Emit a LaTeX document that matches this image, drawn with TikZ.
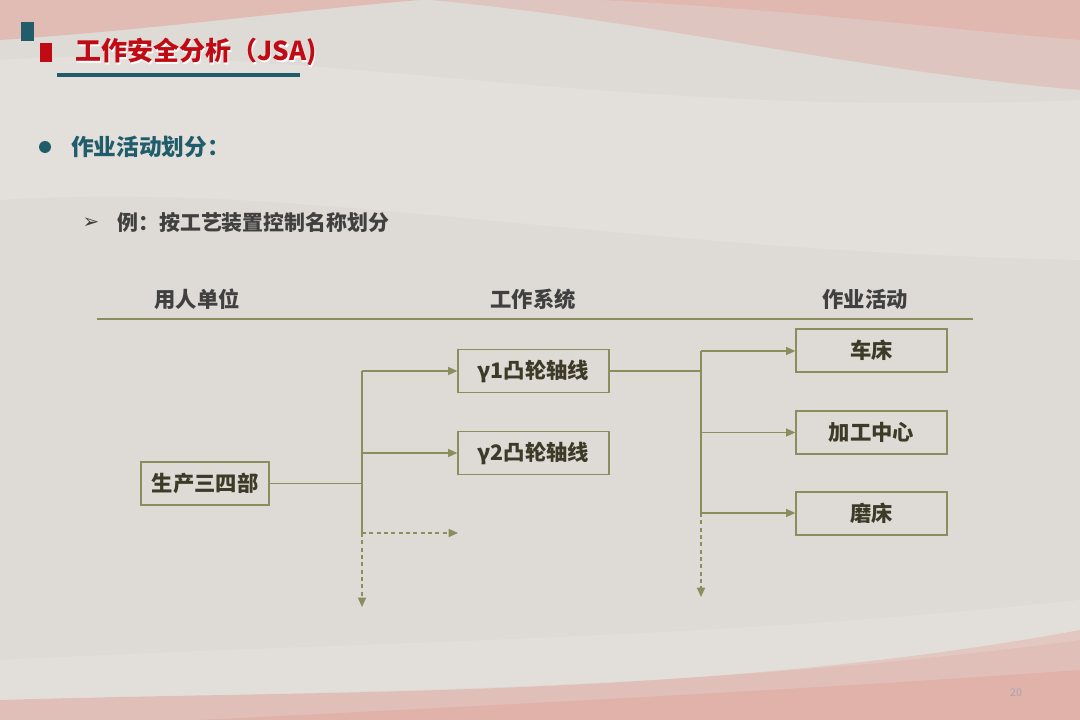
\documentclass[tikz,border=0pt]{standalone}
\usepackage{fontspec}
\setmainfont{Noto Sans CJK SC}
\newfontfamily\symfont{DejaVu Sans}
\usetikzlibrary{arrows.meta,shadings}
\definecolor{bgc}{RGB}{222,218,213}
\definecolor{pinkc}{RGB}{226,160,150}
\definecolor{teal}{RGB}{33,92,107}
\definecolor{titred}{RGB}{192,10,20}
\definecolor{olive}{RGB}{140,140,92}
\definecolor{boxtxt}{RGB}{62,58,40}
\definecolor{headtxt}{RGB}{64,64,64}
\tikzset{
  olbox/.style={draw=olive,line width=1.2pt,minimum width=113pt,minimum height=32.5pt,inner sep=0pt,text=boxtxt,font=\bfseries\fontsize{16}{18}\selectfont},
  head/.style={text=headtxt,font=\bfseries\fontsize{16}{18}\selectfont},
  conn/.style={draw=olive,line width=1.1pt},
  arr/.style={conn,-{Triangle[length=7pt,width=6pt]}},
  dsh/.style={dash pattern=on 3pt off 2.5pt}
}
\begin{document}
\begin{tikzpicture}[x=0.75pt,y=-0.75pt]
% background
\fill[bgc] (0,0) rectangle (1080,720);
\useasboundingbox (0,0) rectangle (1080,720);
\begin{scope}
\clip (0,0) rectangle (1080,720);
\fill[pinkc,opacity=0.5] (0,0) -- (0,40) .. controls (150,30) and (300,10) .. (420,0) -- cycle;
\fill[pinkc,opacity=0.35] (430,0) .. controls (650,20) and (850,70) .. (1080,90) -- (1080,0) -- cycle;
\fill[pinkc,opacity=0.35] (600,0) .. controls (800,10) and (950,30) .. (1080,40) -- (1080,0) -- cycle;
\fill[white,opacity=0.18] (0,60) .. controls (300,40) and (600,120) .. (1080,100) -- (1080,260) .. controls (600,250) and (300,180) .. (0,200) -- cycle;
\fill[pinkc,opacity=0.45] (0,720) -- (0,700) .. controls (300,690) and (700,700) .. (1080,630) -- (1080,720) -- cycle;
\fill[pinkc,opacity=0.4] (200,720) .. controls (500,705) and (800,690) .. (1080,670) -- (1080,720) -- cycle;
\fill[white,opacity=0.15] (0,660) .. controls (400,640) and (700,640) .. (1080,600) -- (1080,640) .. controls (700,690) and (400,690) .. (0,700) -- cycle;
\end{scope}
% title decoration
\fill[teal] (21,22) rectangle (34,41);
\fill[titred] (40,43) rectangle (52,62);
\node[anchor=west,text=white,font=\bfseries\fontsize{19.5}{22}\selectfont,inner sep=0pt] (tshadow) at (76.5,53.5) {工作安全分析（JSA)};
\node[anchor=west,text=titred,font=\bfseries\fontsize{19.5}{22}\selectfont,inner sep=0pt] (title) at (75,52) {工作安全分析（JSA)};
\fill[teal] (57,73) rectangle (300,77);
% bullet
\fill[teal] (45,147) circle (6);
\node[anchor=west,text=teal,font=\bfseries\fontsize{17}{20}\selectfont,inner sep=0pt] (sec) at (71,147) {作业活动划分：};
\node[anchor=center,text=headtxt,font=\symfont\fontsize{15}{16}\selectfont,inner sep=0pt] (tri) at (91,223) {➢};
\node[anchor=west,text=headtxt,font=\bfseries\fontsize{15.7}{18}\selectfont,inner sep=0pt] (ex) at (117,223) {例：按工艺装置控制名称划分};
% headers
\node[head] (h1) at (197,299) {用人单位};
\node[head] (h2) at (533,299) {工作系统};
\node[head] (h3) at (865,299) {作业活动};
\coordinate (hl) at (97,319);
\coordinate (hr) at (973,319);
\draw[conn,line width=1pt] (hl) -- (hr);
% boxes
\node[olbox,minimum width=96pt] (src) at (205,483.5) {生产三四部};
\node[olbox] (g1) at (533.5,371) {γ1凸轮轴线};
\node[olbox] (g2) at (533.5,453) {γ2凸轮轴线};
\node[olbox] (c1) at (871.5,350.5) {车床};
\node[olbox] (c2) at (871.5,432.5) {加工中心};
\node[olbox] (c3) at (871.5,513.5) {磨床};
% left connectors
\coordinate (v1t) at (362,371);
\coordinate (v1b) at (362,533);
\coordinate (v1e) at (362,607);
\coordinate (d1) at (458,533);
\draw[conn] (src.east) -- (src.east -| v1t);
\draw[conn] (v1t) -- (v1b);
\draw[arr,dsh] (v1b) -- (v1e);
\draw[arr] (v1t) -- (g1.west);
\draw[arr] (v1t |- g2.west) -- (g2.west);
\draw[arr,dsh] (v1b) -- (d1);
% right connectors
\coordinate (v2t) at (701,351);
\coordinate (v2b) at (701,513);
\coordinate (v2e) at (701,597);
\draw[conn] (g1.east) -- (g1.east -| v2t);
\draw[conn] (v2t) -- (v2b);
\draw[arr,dsh] (v2b) -- (v2e);
\draw[arr] (v2t) -- (v2t -| c1.west);
\draw[arr] (v2t |- c2.west) -- (c2.west);
\draw[arr] (v2b) -- (v2b -| c3.west);
% page number
\node[text=gray!70,font=\fontsize{8}{9}\selectfont] (pg) at (1016,693) {20};
\end{tikzpicture}
\end{document}
